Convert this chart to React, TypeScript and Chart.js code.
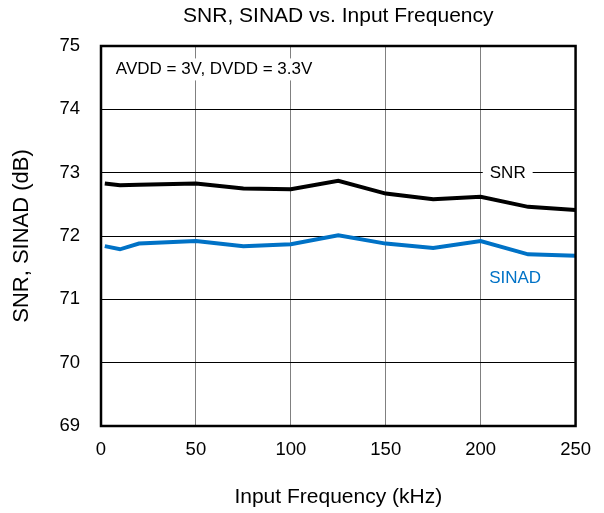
import React, { useEffect, useRef } from "react";
import { Chart, registerables } from "chart.js";

Chart.register(...registerables);

const freqs = [2, 10, 20, 50, 75, 100, 125, 150, 175, 200, 225, 250];
const snr = [72.83, 72.8, 72.81, 72.83, 72.75, 72.74, 72.87, 72.67, 72.58, 72.62, 72.46, 72.41];
const sinad = [71.84, 71.79, 71.88, 71.92, 71.84, 71.87, 72.01, 71.88, 71.81, 71.92, 71.71, 71.69];
const xTicks = [0, 50, 100, 150, 200, 250];
const yTicks = [69, 70, 71, 72, 73, 74, 75];

const TITLE = "SNR, SINAD vs. Input Frequency";
const FONT = "Liberation Sans, Arial, Helvetica, sans-serif";
const BLUE = "#0072C6";

const notes = [
  { text: "AVDD = 3V, DVDD = 3.3V", x: 7.8, y: 74.63, color: "#000", size: 17 },
  { text: "SNR", x: 204.8, y: 72.99, color: "#000", size: 17 },
  { text: "SINAD", x: 204.5, y: 71.33, color: BLUE, size: 17 },
];

const annotPlugin = {
  id: "annot",
  beforeDatasetsDraw(chart: any) {
    const { ctx, scales } = chart;
    ctx.save();
    notes.forEach((n) => {
      ctx.font = `${n.size}px ${FONT}`;
      const w = ctx.measureText(n.text).width;
      const px = scales.x.getPixelForValue(n.x);
      const py = scales.y.getPixelForValue(n.y);
      ctx.fillStyle = "#fff";
      ctx.fillRect(px - 7, py - 11, w + 14, 22);
    });
    ctx.restore();
  },
  afterDatasetsDraw(chart: any) {
    const { ctx, scales, chartArea } = chart;
    ctx.save();
    notes.forEach((n) => {
      ctx.font = `${n.size}px ${FONT}`;
      ctx.fillStyle = n.color;
      ctx.textAlign = "left";
      ctx.textBaseline = "middle";
      ctx.fillText(n.text, scales.x.getPixelForValue(n.x), scales.y.getPixelForValue(n.y));
    });
    ctx.strokeStyle = "#000";
    ctx.lineWidth = 2.5;
    ctx.strokeRect(chartArea.left, chartArea.top, chartArea.right - chartArea.left, chartArea.bottom - chartArea.top);
    ctx.font = `21px ${FONT}`;
    ctx.fillStyle = "#000";
    ctx.textAlign = "center";
    ctx.textBaseline = "middle";
    ctx.fillText(TITLE, (chartArea.left + chartArea.right) / 2, 16);
    ctx.restore();
  },
};

export default function App() {
  const ref = useRef<HTMLCanvasElement | null>(null);
  useEffect(() => {
    document.body.style.margin = "0";
    const chart = new Chart(ref.current as HTMLCanvasElement, {
      type: "line",
      data: {
        datasets: [
          {
            label: "SNR",
            data: freqs.map((f, i) => ({ x: f, y: snr[i] })),
            borderColor: "#000",
            borderWidth: 4,
            pointRadius: 0,
            tension: 0,
          },
          {
            label: "SINAD",
            data: freqs.map((f, i) => ({ x: f, y: sinad[i] })),
            borderColor: BLUE,
            borderWidth: 4,
            pointRadius: 0,
            tension: 0,
          },
        ],
      },
      options: {
        responsive: false,
        animation: false,
        layout: { padding: { left: 0, right: 27, top: 46, bottom: 0 } },
        plugins: {
          legend: { display: false },
          tooltip: { enabled: false },
          title: { display: false },
        },
        scales: {
          x: {
            type: "linear",
            min: 0,
            max: 250,
            afterFit: (s: any) => {
              s.height = 87;
            },
            afterBuildTicks: (s: any) => {
              s.ticks = xTicks.map((v) => ({ value: v }));
            },
            ticks: {
              color: "#000",
              font: { family: FONT, size: 18.5 },
              padding: 13,
              maxRotation: 0,
            },
            grid: { color: "#808080", lineWidth: 1, drawTicks: false },
            border: { display: false },
            title: {
              display: true,
              text: "Input Frequency (kHz)",
              color: "#000",
              font: { family: FONT, size: 21 },
              padding: { top: 0, bottom: 3.5 },
            },
          },
          y: {
            type: "linear",
            min: 69,
            max: 75,
            afterFit: (s: any) => {
              s.width = 101;
            },
            afterBuildTicks: (s: any) => {
              s.ticks = yTicks.map((v) => ({ value: v }));
            },
            ticks: {
              color: "#000",
              font: { family: FONT, size: 18.5 },
              padding: 21,
            },
            grid: { color: "#000", lineWidth: 1, drawTicks: false },
            border: { display: false },
            title: {
              display: true,
              text: "SNR, SINAD (dB)",
              color: "#000",
              font: { family: FONT, size: 22 },
              padding: { top: 8.8, bottom: 0 },
            },
          },
        },
      },
      plugins: [annotPlugin],
    });
    return () => chart.destroy();
  }, []);
  return (
    <div style={{ width: 604, height: 513 }}>
      <canvas ref={ref} width={604} height={513} />
    </div>
  );
}
